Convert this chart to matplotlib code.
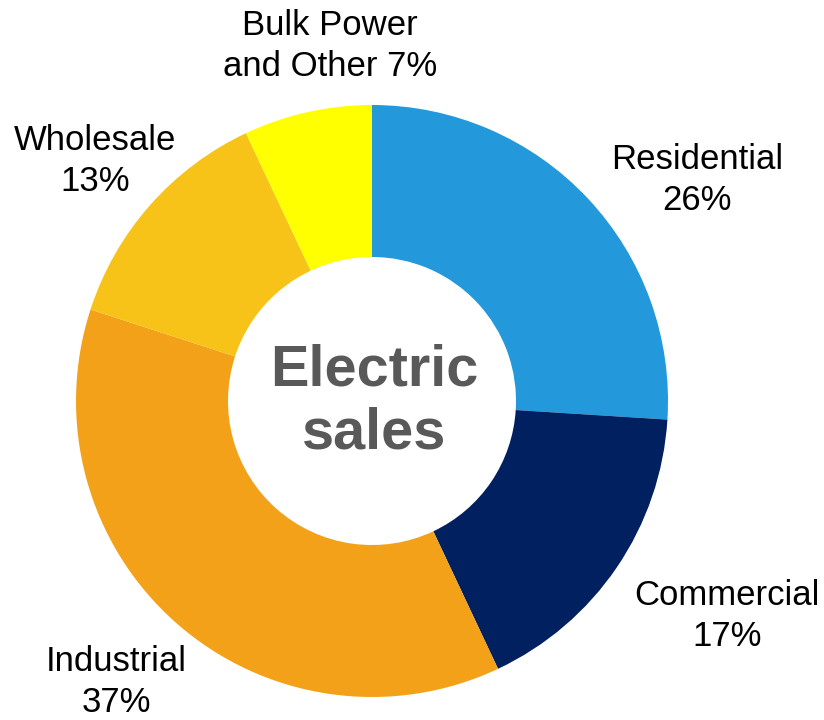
import matplotlib.pyplot as plt

# Electric sales share by customer class (%)
categories = ['Residential', 'Commercial', 'Industrial', 'Wholesale', 'Bulk Power\nand Other']
shares = [26, 17, 37, 13, 7]
colors = ['#2399DB', '#002060', '#F4A11A', '#F7C318', '#FFFF00']

plt.rcParams['font.family'] = ['Liberation Sans', 'DejaVu Sans']

fig = plt.figure(figsize=(8.24, 7.2), dpi=100)
ax = fig.add_axes([0, 0, 1, 1])

cx, cy = 372, 319
wedges, texts = ax.pie(shares, colors=colors, startangle=90, counterclock=False,
                       center=(cx, cy), radius=296, frame=True,
                       wedgeprops=dict(width=152, edgecolor='none'),
                       labels=[f'{c} {s}%' if '\n' in c else f'{c}\n{s}%'
                               for c, s in zip(categories, shares)],
                       labeldistance=1.3,
                       textprops=dict(fontsize=25, color='black',
                                      linespacing=1.3))
ax.set_xlim(0, 824)
ax.set_ylim(0, 720)
ax.set_aspect('equal')
ax.axis('off')

# label centres, offsets from donut centre in pixels
offsets = [(325, 221), (355, -215), (-256, -281), (-277, 240), (-42, 355)]
for t, (dx, dy) in zip(texts, offsets):
    t.set_position((cx + dx, cy + dy))
    t.set_ha('center')
    t.set_va('center')

ax.text(cx + 2, cy - 1, 'Electric\nsales', ha='center', va='center', fontsize=41.5,
        fontweight='bold', color='#595959', linespacing=1.2)

fig.savefig('out.png', dpi=100)
